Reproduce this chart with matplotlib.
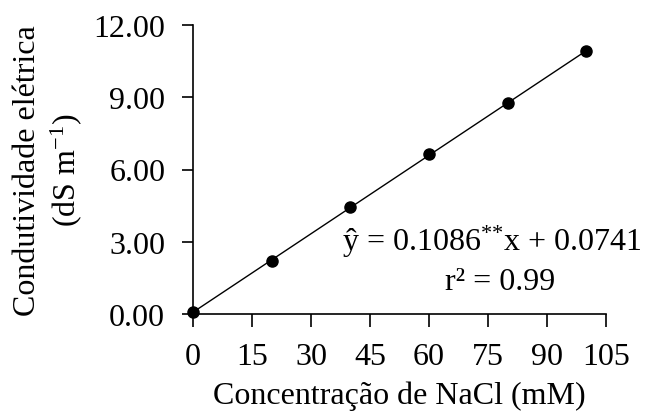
import matplotlib
matplotlib.use('Agg')
import numpy as np
import matplotlib.pyplot as plt

plt.rcParams['font.family'] = ['Liberation Serif', 'DejaVu Serif']
plt.rcParams['mathtext.fontset'] = 'custom'
plt.rcParams['mathtext.rm'] = 'Liberation Serif'
plt.rcParams['mathtext.it'] = 'Liberation Serif:italic'

# NaCl concentration (mM) and measured conductivity (dS m-1)
nacl = [0, 20, 40, 60, 80, 100]
ce = [0.07, 2.2, 4.45, 6.65, 8.75, 10.9]

# fitted linear model
slope = 0.1086
intercept = 0.0741

xticks = [0, 15, 30, 45, 60, 75, 90, 105]
yticks = [0, 3, 6, 9, 12]

fs = 23

fig = plt.figure(figsize=(6.5, 4.14), dpi=100)
ax = fig.add_axes([193 / 650, 1 - 315 / 414, (606 - 193) / 650, (315 - 26) / 414])

xfit = np.array([nacl[0], nacl[-1]])
ax.plot(xfit, slope * xfit + intercept, color='black', lw=1, zorder=2)
ax.plot(nacl, ce, 'o', color='black', ms=8, zorder=3, clip_on=False)

ax.set_xlim(0, 105)
ax.set_ylim(0, 12)
ax.set_xticks(xticks)
ax.set_yticks(yticks)
ax.set_yticklabels(['%.2f' % v for v in yticks])
for s in ['top', 'right']:
    ax.spines[s].set_visible(False)
for s in ['left', 'bottom']:
    ax.spines[s].set_linewidth(1.2)
ax.tick_params(direction='out', length=8, width=1.2, labelsize=fs)
ax.tick_params(axis='x', length=9, pad=11)
ax.tick_params(axis='y', pad=12)

ax.set_xlabel('Concentração de NaCl (mM)', fontsize=fs, labelpad=7)
ax.set_ylabel('Condutividade elétrica\n(dS m$^{\\mathregular{-1}}$)', fontsize=fs,
              labelpad=7, linespacing=1.2)

ax.text(76, 3.03, 'ŷ = 0.1086$^{{*}{*}}$x + 0.0741', fontsize=fs, ha='center', va='center')
ax.text(78, 1.37, 'r² = 0.99', fontsize=fs, ha='center', va='center')

fig.savefig('out.png', dpi=100)
